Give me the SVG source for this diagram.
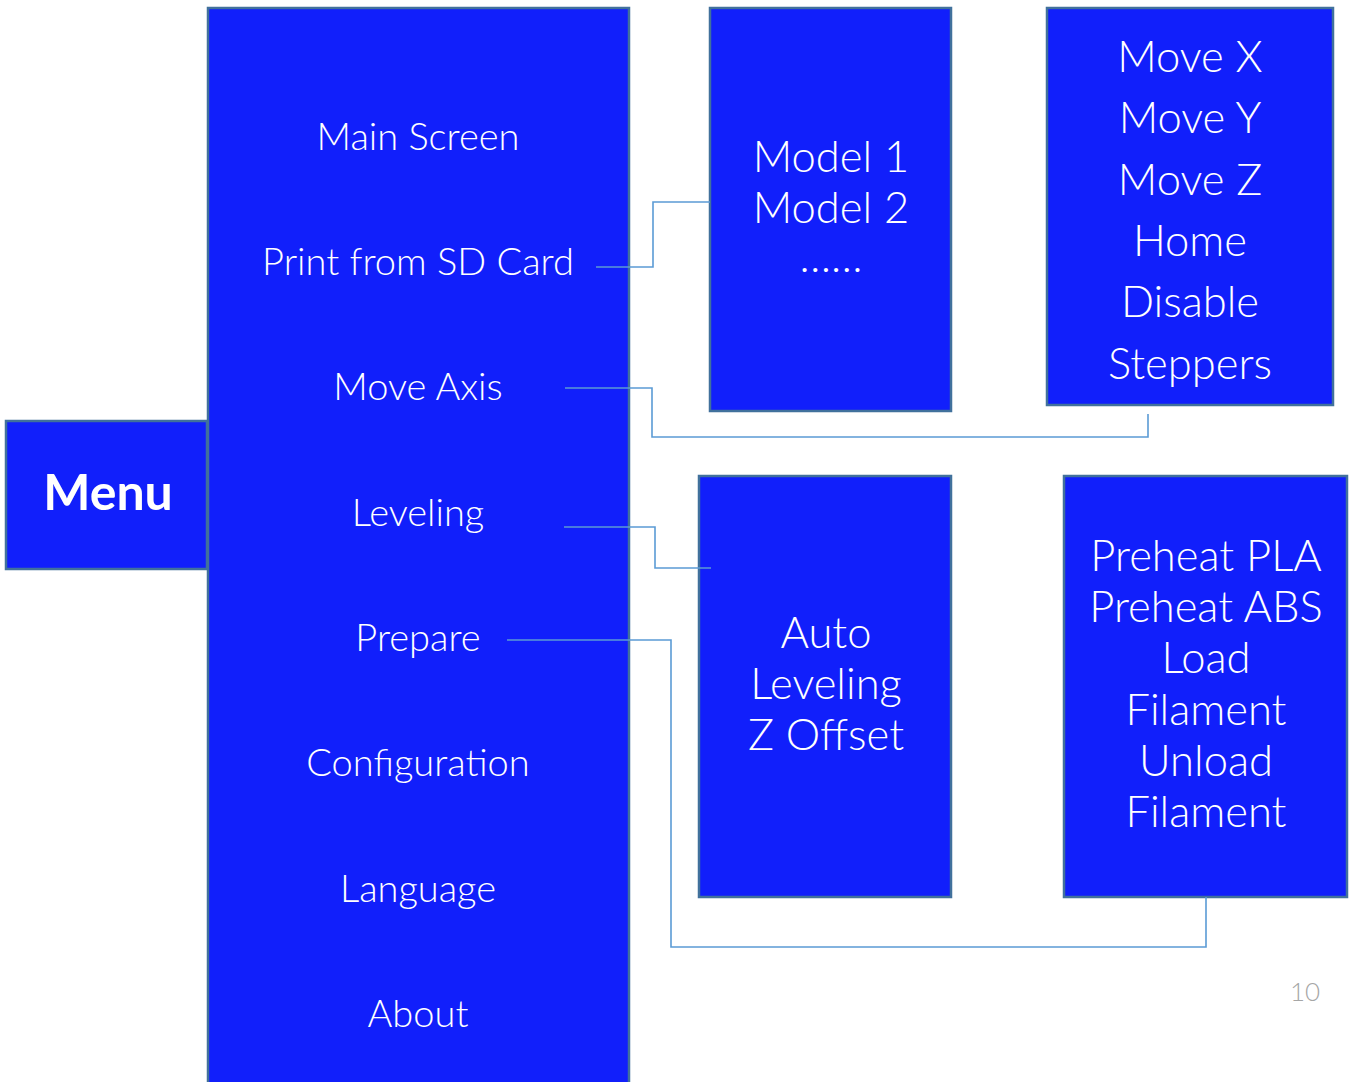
<svg xmlns="http://www.w3.org/2000/svg" width="1355" height="1082" viewBox="0 0 1355 1082">
<style>
.box{fill:#111ffb;stroke:#41719c;stroke-width:2.5}
.t{font-family:Lato,"Open Sans","Liberation Sans",sans-serif;font-weight:300;fill:#ffffff;text-anchor:middle}
.col{font-size:38px}
.big{font-size:43.5px}
.con{fill:none;stroke:#5b9bd5;stroke-width:1.6}
</style>
<rect width="1355" height="1082" fill="#ffffff"/>
<g id="menu">
<rect class="box" x="6" y="421" width="201" height="148"/>
<text x="108" y="510" font-family="Lato,'Open Sans','Liberation Sans',sans-serif" font-weight="700" font-size="50" fill="#ffffff" text-anchor="middle">Menu</text>
</g>
<g id="main-column">
<rect class="box" x="208" y="8" width="421" height="1080"/>
<text class="t col" x="418" y="150">Main Screen</text>
<text class="t col" x="418" y="275">Print from SD Card</text>
<text class="t col" x="418" y="400">Move Axis</text>
<text class="t col" x="418" y="526">Leveling</text>
<text class="t col" x="418" y="651">Prepare</text>
<text class="t col" x="418" y="776">Configuration</text>
<text class="t col" x="418" y="902">Language</text>
<text class="t col" x="418" y="1027">About</text>
</g>
<g id="models">
<rect class="box" x="710" y="8" width="241" height="403"/>
<text class="t big" x="831" y="172">Model 1</text>
<text class="t big" x="831" y="223">Model 2</text>
<text class="t big" x="831" y="272">……</text>
</g>
<g id="move">
<rect class="box" x="1047" y="8" width="286" height="397"/>
<text class="t big" x="1190" y="72">Move X</text>
<text class="t big" x="1190" y="133">Move Y</text>
<text class="t big" x="1190" y="195">Move Z</text>
<text class="t big" x="1190" y="256">Home</text>
<text class="t big" x="1190" y="317">Disable</text>
<text class="t big" x="1190" y="379">Steppers</text>
</g>
<g id="leveling">
<rect class="box" x="699" y="476" width="252" height="421"/>
<text class="t big" x="826" y="648">Auto</text>
<text class="t big" x="826" y="699">Leveling</text>
<text class="t big" x="826" y="750">Z Offset</text>
</g>
<g id="prepare">
<rect class="box" x="1064" y="476" width="283" height="421"/>
<text class="t big" x="1206" y="571">Preheat PLA</text>
<text class="t big" x="1206" y="622">Preheat ABS</text>
<text class="t big" x="1206" y="673">Load</text>
<text class="t big" x="1206" y="725">Filament</text>
<text class="t big" x="1206" y="776">Unload</text>
<text class="t big" x="1206" y="827">Filament</text>
</g>
<g id="connectors">
<polyline class="con" points="596,267 653,267 653,202 710,202"/>
<polyline class="con" points="565,388 652,388 652,437 1148,437 1148,414"/>
<polyline class="con" points="564,527 655,527 655,568 711,568"/>
<polyline class="con" points="507,640 671,640 671,947 1206,947 1206,897"/>
</g>
<text x="1305" y="1001" font-family="Lato,'Open Sans','Liberation Sans',sans-serif" font-weight="300" font-size="26" fill="#a6a6a6" text-anchor="middle">10</text>
</svg>
